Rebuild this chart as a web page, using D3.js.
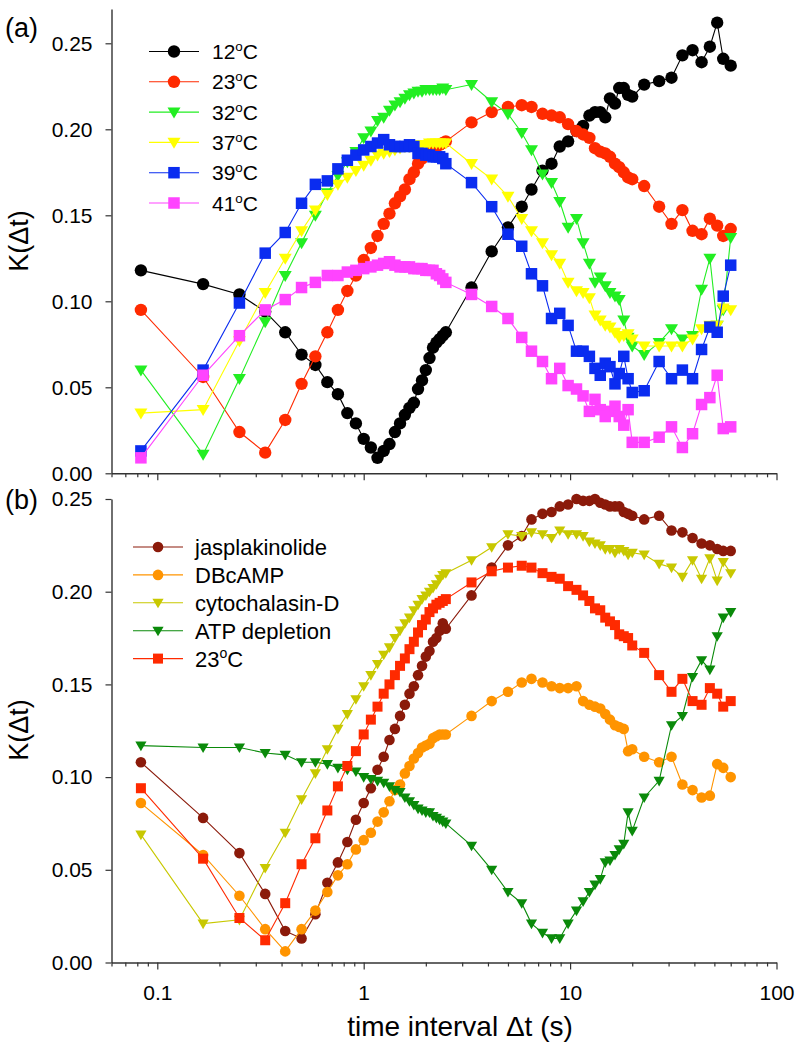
<!DOCTYPE html>
<html>
<head>
<meta charset="utf-8">
<script src="https://cdn.jsdelivr.net/npm/d3@7"></script>
<style>
  body { margin: 0; background: #fff; }
  svg { display: block; }
  text { font-family: "Liberation Sans", Arial, Helvetica, sans-serif; fill: #000; }
</style>
</head>
<body>
<svg id="chart" width="800" height="1045"></svg>
<script>
// ---------------- DATA ----------------
const timesShort = [0.0833,0.1667,0.25,0.3333,0.4167,0.5,0.5833,0.6667,0.75,0.8333,0.9167,1.0,1.0833,1.1667,1.25,1.3333,1.4167,1.5,1.5833,1.6667,1.75,1.8333,1.9167,2.0,2.0833,2.1667,2.25,2.3333,2.4167,2.5];
const timesLong = [3.33,4.17,5.0,5.83,6.5,7.35,8.13,8.91,9.78,10.74,11.56,12.4,13.2,14.0,14.8,15.6,16.5,17.3,18.2,19.1,20.0,22.85,27.0,31.0,35.0,39.2,43.35,47.55,51.6,55.2,60.0];

// panel (a): temperatures
const k12C = [.118,.110,.104,.094,.082,.069,.063,.053,.046,.035,.029,.020,.015,.009,.013,.017,.024,.029,.034,.038,.041,.049,.054,.060,.067,.073,.076,.078,.080,.082,
  .108,.129,.143,.155,.165,.176,.180,.190,.193,.199,.202,.208,.210,.210,.207,.218,.215,.224,.224,.220,.219,.226,.228,.230,.243,.246,.239,.248,.262,.241,.237];
const k23C = [.095,.056,.024,.012,.031,.052,.068,.082,.095,.106,.115,.124,.131,.138,.145,.151,.157,.161,.165,.171,.175,.180,.183,.186,.187,.189,.190,.191,.192,.193,
  .204,.210,.213,.214,.213,.209,.208,.207,.203,.199,.197,.195,.189,.187,.186,.184,.180,.178,.175,.172,.171,.167,.155,.145,.153,.141,.139,.148,.144,.138,.142];
const k32C = [.060,.011,.055,.088,.115,.134,.150,.163,.173,.181,.187,.195,.199,.205,.207,.211,.214,.216,.218,.220,.221,.222,.222,.223,.223,.223,.223,.223,.224,.223,
  .226,.216,.209,.198,.188,.174,.169,.158,.143,.148,.134,.122,.111,.114,.109,.105,.103,.101,.089,.079,.074,.069,.076,.084,.078,.080,.107,.125,.086,.095,.137];
const k37C = [.035,.037,.077,.105,.125,.141,.153,.162,.168,.172,.176,.179,.182,.185,.186,.187,.188,.189,.190,.190,.190,.191,.191,.191,.192,.192,.192,.192,.192,.192,
  .180,.171,.161,.148,.141,.134,.127,.122,.111,.106,.105,.102,.092,.089,.086,.085,.082,.079,.080,.081,.078,.074,.074,.074,.074,.078,.084,.086,.086,.096,.095];
const k39C = [.013,.060,.099,.128,.140,.157,.168,.170,.177,.182,.185,.188,.190,.192,.194,.191,.190,.190,.190,.191,.190,.186,.186,.185,.185,.184,.184,.184,.183,.180,
  .169,.155,.139,.132,.116,.109,.090,.093,.086,.071,.071,.068,.061,.057,.064,.062,.052,.058,.068,.055,.047,.048,.065,.055,.060,.055,.072,.085,.082,.103,.121];
const k41C = [.009,.057,.080,.095,.101,.108,.111,.115,.115,.117,.118,.119,.120,.121,.122,.123,.121,.120,.120,.120,.119,.119,.119,.118,.118,.118,.116,.115,.113,.111,
  .104,.097,.090,.079,.071,.065,.055,.061,.051,.049,.045,.036,.043,.037,.033,.036,.039,.033,.028,.037,.018,.018,.021,.027,.015,.023,.040,.044,.057,.026,.027];

// panel (b): treatments
const kJasp = [.108,.078,.059,.037,.017,.013,.026,.043,.054,.065,.077,.086,.094,.104,.111,.120,.126,.133,.139,.145,.149,.155,.160,.165,.168,.173,.175,.179,.183,.180,
  .198,.213,.225,.230,.239,.242,.243,.246,.247,.250,.249,.249,.250,.248,.247,.246,.246,.246,.243,.242,.241,.239,.241,.233,.232,.229,.226,.225,.223,.222,.222];
const kDBcAMP = [.086,.058,.036,.018,.006,.018,.028,.038,.047,.053,.061,.066,.070,.076,.081,.087,.093,.096,.102,.106,.110,.113,.116,.117,.118,.121,.122,.123,.123,.123,
  .133,.141,.146,.151,.153,.151,.149,.148,.148,.149,.141,.139,.138,.137,.134,.131,.128,.127,.126,.114,.115,.111,.108,.111,.096,.093,.089,.090,.107,.105,.100];
const kCyto = [.069,.021,.023,.051,.070,.088,.102,.115,.126,.134,.142,.149,.155,.161,.166,.170,.175,.179,.183,.186,.190,.193,.196,.198,.200,.202,.204,.207,.209,.210,
  .217,.224,.231,.230,.232,.231,.229,.233,.231,.231,.230,.227,.226,.225,.223,.223,.221,.223,.222,.220,.221,.220,.215,.213,.208,.217,.207,.218,.206,.216,.210];
const kATP = [.117,.116,.116,.113,.112,.108,.108,.107,.105,.104,.103,.100,.099,.098,.097,.095,.093,.092,.089,.087,.085,.083,.082,.081,.081,.079,.078,.077,.076,.075,
  .063,.050,.038,.032,.021,.016,.013,.013,.021,.028,.033,.038,.042,.045,.054,.055,.058,.061,.064,.081,.071,.089,.098,.128,.133,.154,.163,.158,.176,.186,.189];
const k23Cb = [.094,.056,.024,.012,.032,.053,.067,.082,.095,.106,.114,.123,.131,.138,.145,.150,.155,.160,.164,.169,.173,.178,.182,.185,.189,.191,.193,.194,.195,.196,
  .205,.211,.213,.214,.213,.210,.208,.207,.203,.201,.198,.195,.191,.190,.186,.184,.182,.177,.176,.175,.171,.167,.155,.146,.153,.141,.139,.148,.145,.138,.141];

const legendA = ["12", "23", "32", "37", "39", "41"];       // followed by "°C"
const legendB = ["jasplakinolide", "DBcAMP", "cytochalasin-D", "ATP depletion", "23"];
const xMajorTicks = [0.1, 1, 10, 100];
const xMinorTicks = [0.06,0.07,0.08,0.09,0.2,0.3,0.4,0.5,0.6,0.7,0.8,0.9,2,3,4,5,6,7,8,9,20,30,40,50,60,70,80,90];
const yTicks = [0, 0.05, 0.10, 0.15, 0.20, 0.25];

// ---------------- STYLES ----------------
const stylesA = [
  {color: "#000000", shape: "circle"},
  {color: "#ff2a00", shape: "circle"},
  {color: "#22ee22", shape: "tri"},
  {color: "#ffff00", shape: "tri"},
  {color: "#0a2cf0", shape: "square"},
  {color: "#ff44ff", shape: "square"}
];
const stylesB = [
  {color: "#8b1a0a", shape: "circle"},
  {color: "#ff9400", shape: "circle"},
  {color: "#c8c800", shape: "tri"},
  {color: "#0a8a0a", shape: "tri"},
  {color: "#ff2a00", shape: "square"}
];

const times = timesShort.concat(timesLong);
const valsA = [k12C, k23C, k32C, k37C, k39C, k41C];
const valsB = [kJasp, kDBcAMP, kCyto, kATP, k23Cb];

// ---------------- LAYOUT ----------------
const svg = d3.select("#chart");
const x = d3.scaleLog().domain([0.06, 100]).range([111.5, 776.5]);
const yA = d3.scaleLinear().domain([0, 0.27]).range([473.3, 8.9]);
const yB = d3.scaleLinear().domain([0, 0.25]).range([962.5, 499]);
const AX = "#333";

function drawMarker(g, shape, color, cx, cy, sz) {
  if (shape === "circle") {
    g.append("circle").attr("cx", cx).attr("cy", cy).attr("r", sz.r).attr("fill", color);
  } else if (shape === "square") {
    g.append("rect").attr("x", cx - sz.s / 2).attr("y", cy - sz.s / 2)
      .attr("width", sz.s).attr("height", sz.s).attr("fill", color);
  } else {
    const w = sz.tw, h = sz.th;
    g.append("path")
      .attr("d", `M${cx - w},${cy - h * 0.42}L${cx + w},${cy - h * 0.42}L${cx},${cy + h * 0.58}Z`)
      .attr("fill", color);
  }
}

function drawSeries(g, vals, style, y, sz) {
  const pts = times.map((t, i) => [x(t), y(vals[i])]);
  g.append("path").attr("d", d3.line()(pts)).attr("fill", "none")
    .attr("stroke", style.color).attr("stroke-width", 1.1);
  const mg = g.append("g");
  pts.forEach(p => drawMarker(mg, style.shape, style.color, p[0], p[1], sz));
}

function styleAxis(g) {
  g.selectAll("path.domain").attr("stroke", AX).attr("stroke-width", 1.4);
  g.selectAll(".tick line").attr("stroke", AX).attr("stroke-width", 1.2);
  g.selectAll(".tick text").style("font-size", "21px")
    .style("font-family", "'Liberation Sans', Arial, sans-serif").attr("fill", "#000");
}

function yAxis(y) {
  const g = svg.append("g").attr("transform", "translate(111.5,0)")
    .call(d3.axisLeft(y).tickValues(yTicks).tickFormat(d3.format(".2f"))
      .tickSize(6).tickPadding(13).tickSizeOuter(0));
  styleAxis(g);
}

function xAxis(yPos, labels) {
  const gMin = svg.append("g").attr("transform", `translate(0,${yPos})`)
    .call(d3.axisBottom(x).tickValues(xMinorTicks).tickFormat("").tickSize(4).tickSizeOuter(0));
  gMin.select("path.domain").remove();
  styleAxis(gMin);
  const gMaj = svg.append("g").attr("transform", `translate(0,${yPos})`)
    .call(d3.axisBottom(x).tickValues(xMajorTicks)
      .tickFormat(labels ? (d => String(d)) : "").tickSize(7).tickPadding(16).tickSizeOuter(0));
  styleAxis(gMaj);
}

// axes
yAxis(yA);
xAxis(yA(0), false);
yAxis(yB);
xAxis(yB(0), true);

// series
const szA = {r: 6.2, s: 11.5, tw: 6.5, th: 11};
const szB = {r: 5.3, s: 10, tw: 5.6, th: 9.6};
const gA = svg.append("g");
valsA.forEach((v, i) => drawSeries(gA, v, stylesA[i], yA, szA));
const gB = svg.append("g");
valsB.forEach((v, i) => drawSeries(gB, v, stylesB[i], yB, szB));

// legends
function degLabel(t, base, size) {
  t.append("tspan").text(base);
  t.append("tspan").text("o").style("font-size", (size * 0.64) + "px").attr("dy", -size * 0.38);
  t.append("tspan").text("C").attr("dy", size * 0.38);
}
const lgA = svg.append("g");
legendA.forEach((lab, i) => {
  const yy = 51.5 + i * 30.3;
  lgA.append("line").attr("x1", 149).attr("x2", 199).attr("y1", yy).attr("y2", yy)
    .attr("stroke", stylesA[i].color).attr("stroke-width", 1.1);
  drawMarker(lgA, stylesA[i].shape, stylesA[i].color, 174, yy, szA);
  const t = lgA.append("text").attr("x", 212).attr("y", yy).attr("dy", "0.36em").style("font-size", "21px");
  degLabel(t, lab, 21);
});
const lgB = svg.append("g");
legendB.forEach((lab, i) => {
  const yy = 547 + i * 27.9;
  lgB.append("line").attr("x1", 133).attr("x2", 183).attr("y1", yy).attr("y2", yy)
    .attr("stroke", stylesB[i].color).attr("stroke-width", 1.1);
  drawMarker(lgB, stylesB[i].shape, stylesB[i].color, 158, yy, szB);
  const t = lgB.append("text").attr("x", 195).attr("y", yy).attr("dy", "0.36em").style("font-size", "22px");
  if (i === 4) degLabel(t, lab, 22); else t.text(lab);
});

// panel letters and titles
svg.append("text").attr("x", 5).attr("y", 37).style("font-size", "27px").text("(a)");
svg.append("text").attr("x", 5).attr("y", 509).style("font-size", "27px").text("(b)");
[[241, "a"], [730, "b"]].forEach(([cy]) => {
  svg.append("text").attr("transform", `translate(28,${cy}) rotate(-90)`)
    .attr("text-anchor", "middle").style("font-size", "27px").text("K(\u0394t)");
});
svg.append("text").attr("x", 460).attr("y", 1036).attr("text-anchor", "middle")
  .style("font-size", "28px").text("time interval \u0394t (s)");
</script>
</body>
</html>
